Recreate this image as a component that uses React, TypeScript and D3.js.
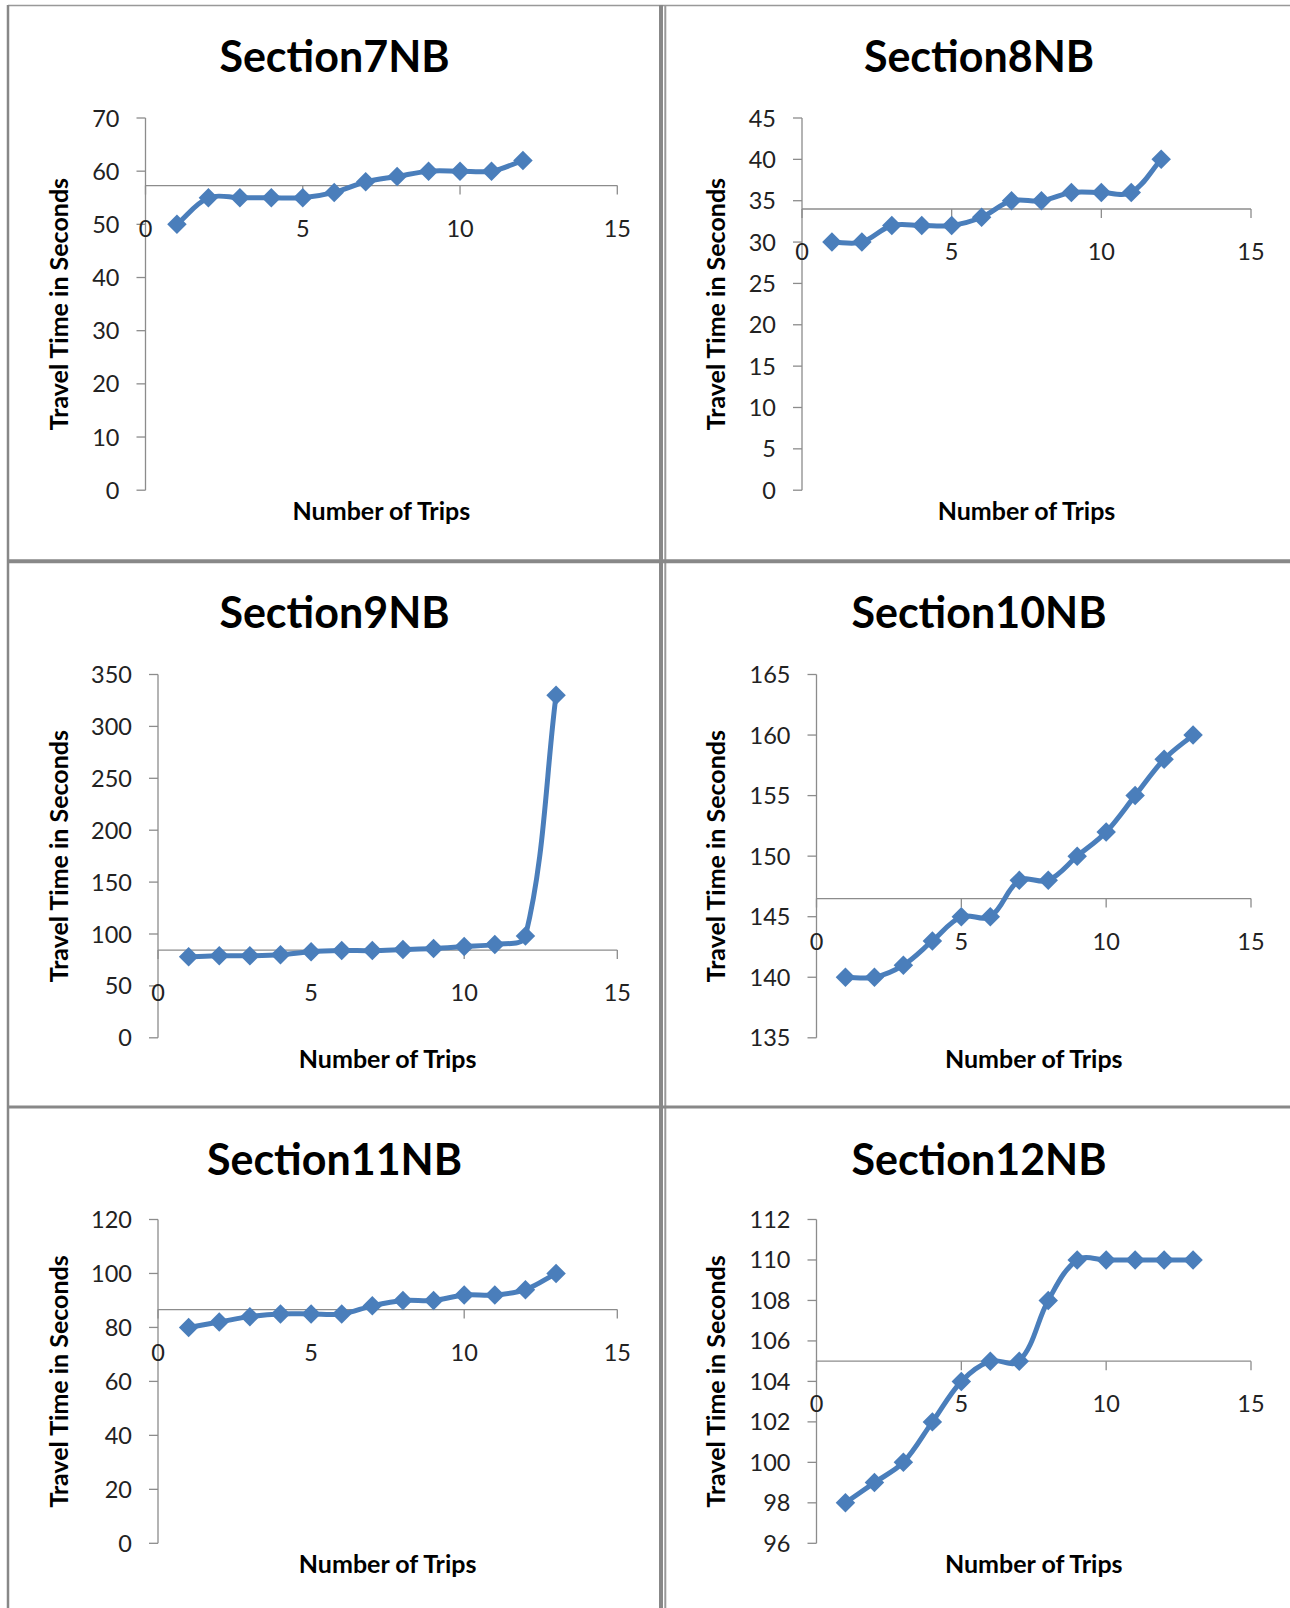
import React from "react";
import * as d3 from "d3";

// ---------- data ----------
const tripsShort = [1, 2, 3, 4, 5, 6, 7, 8, 9, 10, 11, 12];
const tripsLong = [1, 2, 3, 4, 5, 6, 7, 8, 9, 10, 11, 12, 13];

const section7 = [50, 55, 55, 55, 55, 56, 58, 59, 60, 60, 60, 62];
const section8 = [30, 30, 32, 32, 32, 33, 35, 35, 36, 36, 36, 40];
const section9 = [78, 79, 79, 80, 83, 84, 84, 85, 86, 88, 90, 98, 330];
const section10 = [140, 140, 141, 143, 145, 145, 148, 148, 150, 152, 155, 158, 160];
const section11 = [80, 82, 84, 85, 85, 85, 88, 90, 90, 92, 92, 94, 100];
const section12 = [98, 99, 100, 102, 104, 105, 105, 108, 110, 110, 110, 110, 110];

const titles = ["Section7NB", "Section8NB", "Section9NB", "Section10NB", "Section11NB", "Section12NB"];
const xTicks = [0, 5, 10, 15];
const yTicks7 = [0, 10, 20, 30, 40, 50, 60, 70];
const yTicks8 = [0, 5, 10, 15, 20, 25, 30, 35, 40, 45];
const yTicks9 = [0, 50, 100, 150, 200, 250, 300, 350];
const yTicks10 = [135, 140, 145, 150, 155, 160, 165];
const yTicks11 = [0, 20, 40, 60, 80, 100, 120];
const yTicks12 = [96, 98, 100, 102, 104, 106, 108, 110, 112];
// value where the horizontal axis crosses the vertical axis
const xAxisCross = [57.3, 34, 84.5, 146.5, 86.6, 105];

const xLabel = "Number of Trips";
const yLabel = "Travel Time in Seconds";

// ---------- layout ----------
const W = 1290;
const H = 1608;
const cols = [
  { left: 8, right: 661, titleX: 334.5, yLabelX: 68, plotRight: 617.3 },
  { left: 665, right: 1293, titleX: 979, yLabelX: 725, plotRight: 1251 },
];
const rows = [
  { top: 5, titleY: 71.5, plotTop: 118, plotBottom: 490.2 },
  { top: 562, titleY: 628, plotTop: 674.5, plotBottom: 1037.8 },
  { top: 1108, titleY: 1174.5, plotTop: 1219.5, plotBottom: 1543.3 },
];
const plotLefts = [145.5, 802, 158, 816.5, 158, 816.5];

const BLUE = "#4A7EBB";
const AXIS = "#8C8C8C";
const FONT = "Lato, 'Open Sans', sans-serif";
const TENSION = 1 / 3;

// Excel-like smoothed line: Bezier arms along (next - prev), scaled by segment length
function curveSmooth(context: any) {
  let pts: [number, number][] = [];
  return {
    areaStart() {},
    areaEnd() {},
    lineStart() {
      pts = [];
    },
    point(x: number, y: number) {
      pts.push([+x, +y]);
    },
    lineEnd() {
      const n = pts.length;
      if (!n) return;
      context.moveTo(pts[0][0], pts[0][1]);
      if (n === 1) return;
      const tang = pts.map((_, i) => {
        const a = pts[Math.max(0, i - 1)];
        const b = pts[Math.min(n - 1, i + 1)];
        const dx = b[0] - a[0];
        const dy = b[1] - a[1];
        const l = Math.hypot(dx, dy) || 1;
        return [dx / l, dy / l];
      });
      for (let i = 0; i < n - 1; i++) {
        const a = pts[i];
        const b = pts[i + 1];
        const k = Math.hypot(b[0] - a[0], b[1] - a[1]) * TENSION;
        context.bezierCurveTo(
          a[0] + tang[i][0] * k,
          a[1] + tang[i][1] * k,
          b[0] - tang[i + 1][0] * k,
          b[1] - tang[i + 1][1] * k,
          b[0],
          b[1]
        );
      }
    },
  };
}

const series = [
  { x: tripsShort, y: section7, ticks: yTicks7 },
  { x: tripsShort, y: section8, ticks: yTicks8 },
  { x: tripsLong, y: section9, ticks: yTicks9 },
  { x: tripsLong, y: section10, ticks: yTicks10 },
  { x: tripsLong, y: section11, ticks: yTicks11 },
  { x: tripsLong, y: section12, ticks: yTicks12 },
];

function Panel({ idx }: { idx: number }) {
  const col = cols[idx % 2];
  const row = rows[Math.floor(idx / 2)];
  const s = series[idx];
  const left = plotLefts[idx];
  const xs = d3.scaleLinear().domain([0, 15]).range([left, col.plotRight]);
  const ticks = s.ticks;
  const ys = d3
    .scaleLinear()
    .domain([ticks[0], ticks[ticks.length - 1]])
    .range([row.plotBottom, row.plotTop]);
  const pts: [number, number][] = s.x.map((xv, i) => [xs(xv), ys(s.y[i])]);
  const line = d3.line().curve(curveSmooth as any)(pts) || "";
  const diamond = d3.symbol(d3.symbolSquare, 190)() || "";
  const axisY = ys(xAxisCross[idx]);
  const midX = (left + col.plotRight) / 2;
  const midY = (row.plotTop + row.plotBottom) / 2;

  return (
    <g>
      <text
        x={col.titleX}
        y={row.titleY}
        textAnchor="middle"
        fontFamily={FONT}
        fontWeight={700}
        fontSize={43}
        fill="#000"
      >
        {titles[idx]}
      </text>
      {/* y axis */}
      <line x1={left} x2={left} y1={row.plotTop} y2={row.plotBottom} stroke={AXIS} strokeWidth={1.3} />
      {ticks.map((t) => (
        <g key={"y" + t}>
          <line x1={left - 9} x2={left} y1={ys(t)} y2={ys(t)} stroke={AXIS} strokeWidth={1.3} />
          <text
            x={left - 26}
            y={ys(t) + 8.5}
            textAnchor="end"
            fontFamily={FONT}
            fontSize={23.5}
            fill="#222"
          >
            {t}
          </text>
        </g>
      ))}
      {/* x axis */}
      <line x1={left} x2={col.plotRight} y1={axisY} y2={axisY} stroke={AXIS} strokeWidth={1.3} />
      {xTicks.map((t) => (
        <g key={"x" + t}>
          <line x1={xs(t)} x2={xs(t)} y1={axisY} y2={axisY + 9} stroke={AXIS} strokeWidth={1.3} />
          <text
            x={xs(t)}
            y={axisY + 51}
            textAnchor="middle"
            fontFamily={FONT}
            fontSize={23.5}
            fill="#222"
          >
            {t}
          </text>
        </g>
      ))}
      {/* axis titles */}
      <text
        x={midX}
        y={row.plotBottom + 30}
        textAnchor="middle"
        fontFamily={FONT}
        fontWeight={700}
        fontSize={25}
        fill="#000"
      >
        {xLabel}
      </text>
      <text
        transform={`translate(${col.yLabelX},${midY}) rotate(-90)`}
        textAnchor="middle"
        fontFamily={FONT}
        fontWeight={700}
        fontSize={25}
        fill="#000"
      >
        {yLabel}
      </text>
      {/* series */}
      <path d={line} fill="none" stroke={BLUE} strokeWidth={5} strokeLinejoin="round" />
      {pts.map((p, i) => (
        <path key={i} d={diamond} transform={`translate(${p[0]},${p[1]}) rotate(45)`} fill={BLUE} />
      ))}
    </g>
  );
}

export default function App() {
  return (
    <svg
      width={W}
      height={H}
      viewBox={`0 0 ${W} ${H}`}
      style={{ position: "absolute", left: 0, top: 0, background: "#fff" }}
    >
      <rect x={0} y={0} width={W} height={H} fill="#fff" />
      {/* panel frames */}
      <line x1={8} x2={W} y1={5.5} y2={5.5} stroke="#999" strokeWidth={1.5} />
      <line x1={8} x2={8} y1={5} y2={H} stroke="#888" strokeWidth={2.5} />
      <line x1={661} x2={661} y1={5} y2={H} stroke="#888" strokeWidth={4} />
      <line x1={665.3} x2={665.3} y1={5} y2={H} stroke="#999" strokeWidth={2} />
      <line x1={8} x2={W} y1={561.3} y2={561.3} stroke="#888" strokeWidth={4} />
      <line x1={8} x2={W} y1={1107} y2={1107} stroke="#888" strokeWidth={3} />
      {titles.map((_, i) => (
        <Panel key={i} idx={i} />
      ))}
    </svg>
  );
}
